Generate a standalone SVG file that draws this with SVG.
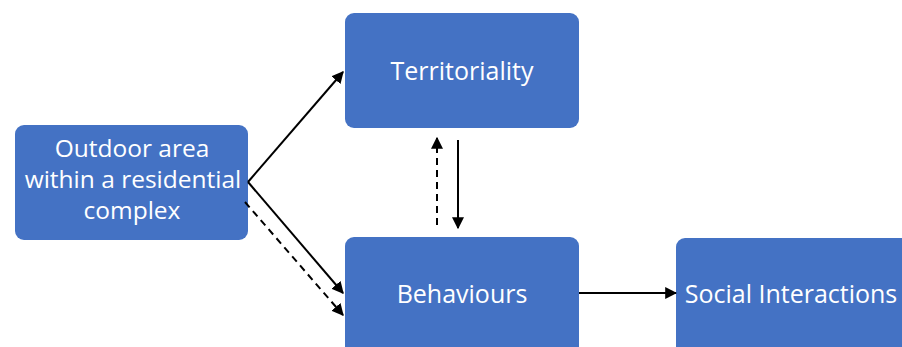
<svg xmlns="http://www.w3.org/2000/svg" width="902" height="347" viewBox="0 0 902 347">
<style>
.box{fill:#4472C4;}
.t{fill:#fff;font-family:"Open Sans","Liberation Sans",sans-serif;font-size:25px;text-anchor:middle;}
.s{font-size:24.5px;}
.c{stroke:#000;stroke-width:2;fill:none;}
.d{stroke-dasharray:7,5;}
</style>
<defs>
<marker id="ah" viewBox="0 0 10 10" refX="9" refY="5" markerWidth="6" markerHeight="6" orient="auto" markerUnits="strokeWidth">
<path d="M0,0 L10,5 L0,10 Z" fill="#000"/>
</marker>
</defs>
<rect width="902" height="347" fill="#fff"/>
<g id="outdoor"><rect class="box" x="15" y="125" width="233" height="115" rx="9"/>
<text class="t s" x="132" y="157">Outdoor area</text>
<text class="t s" x="133" y="188">within a residential</text>
<text class="t s" x="132" y="219">complex</text></g>
<g id="territoriality"><rect class="box" x="345" y="13" width="234" height="115" rx="9"/>
<text class="t" x="462" y="80">Territoriality</text></g>
<g id="behaviours"><rect class="box" x="345" y="237" width="234" height="125" rx="9"/>
<text class="t" x="462" y="303">Behaviours</text></g>
<g id="social"><rect class="box" x="676" y="238" width="234" height="125" rx="9"/>
<text class="t" x="791" y="303">Social Interactions</text></g>
<g id="connectors">
<path class="c" d="M248,182 L343,72" marker-end="url(#ah)"/>
<path class="c" d="M248,182 L343,293" marker-end="url(#ah)"/>
<path class="c d" d="M245,202 L343,315" marker-end="url(#ah)"/>
<path class="c d" d="M437,225 L437,138" marker-end="url(#ah)"/>
<path class="c" d="M458,140 L458,228" marker-end="url(#ah)"/>
<path class="c" d="M579,293 L676,293" marker-end="url(#ah)"/>
</g>
</svg>
